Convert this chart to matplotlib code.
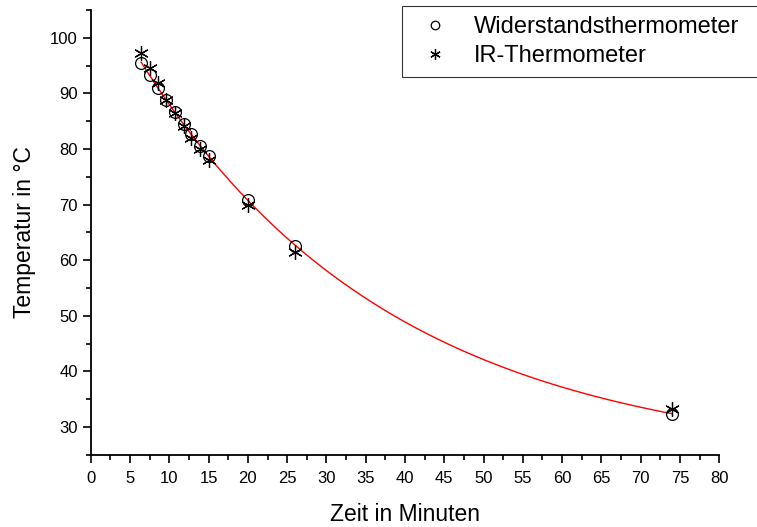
import numpy as np
import matplotlib
matplotlib.use("Agg")
import matplotlib.pyplot as plt
from matplotlib.ticker import MultipleLocator

plt.rcParams['font.family'] = ['Liberation Sans', 'DejaVu Sans']

# Messwerte
zeit = [6.4, 7.5, 8.5, 9.6, 10.7, 11.8, 12.8, 13.9, 15.0, 20.0, 26.0, 74.0]
temp_widerstand = [95.5, 93.3, 91.0, 88.8, 86.6, 84.5, 82.7, 80.6, 78.7, 70.8, 62.6, 32.4]
temp_ir = [97.3, 94.6, 91.8, 88.8, 86.5, 84.2, 81.9, 80.0, 78.1, 69.9, 61.4, 33.2]

# exponentieller Fit y = y0 + A*exp(-t/tau) auf Widerstandsthermometer
t = np.array(zeit)
y = np.array(temp_widerstand)
best = None
for tau in np.linspace(5, 200, 4000):
    M = np.column_stack([np.ones_like(t), np.exp(-t / tau)])
    coef, res, _, _ = np.linalg.lstsq(M, y, rcond=None)
    err = np.sum((M @ coef - y) ** 2)
    if best is None or err < best[0]:
        best = (err, tau, coef)
_, tau, coef = best
t_fit = np.linspace(t.min(), t.max(), 400)
y_fit = coef[0] + coef[1] * np.exp(-t_fit / tau)

fig = plt.figure(figsize=(7.57, 5.27), dpi=100)
ax = fig.add_axes([0.120, 0.137, 0.830, 0.844])

ax.plot(t_fit, y_fit, color='red', lw=1.0)
ax.plot(zeit, temp_widerstand, 'o', mfc='none', mec='black', ms=8.5, mew=0.9,
        label='Widerstandsthermometer', linestyle='none')
ax.plot(zeit, temp_ir, marker=(6, 2, 0), color='black', ms=10.5, mew=0.9,
        label='IR-Thermometer', linestyle='none')

ax.set_xlim(0, 80)
ax.set_ylim(25, 105)
ax.xaxis.set_major_locator(MultipleLocator(5))
ax.xaxis.set_minor_locator(MultipleLocator(2.5))
ax.yaxis.set_major_locator(MultipleLocator(10))
ax.yaxis.set_minor_locator(MultipleLocator(5))
ax.set_yticks(np.arange(30, 101, 10))

for s in ['top', 'right']:
    ax.spines[s].set_visible(False)
for s in ['left', 'bottom']:
    ax.spines[s].set_linewidth(1.3)
ax.tick_params(which='major', length=6, width=1.2, labelsize=12, direction='out')
ax.tick_params(axis='x', which='major', pad=6)
ax.tick_params(which='minor', length=3.5, width=1.2, direction='out')

ax.set_xlabel('Zeit in Minuten', fontsize=16.5, labelpad=12)
ax.set_ylabel('Temperatur in °C', fontsize=16.5, labelpad=10)

# Legende reicht rechts bis ueber den Bildrand
leg = fig.legend(loc='upper left', bbox_to_anchor=(0.531, 0.9886, 0.49, 0), mode='expand',
                 fontsize=17, frameon=True, fancybox=False, edgecolor='black',
                 markerscale=0.72, handlelength=2.0, handletextpad=0.61,
                 borderpad=0.42, labelspacing=0.3, borderaxespad=0.0)
leg.get_frame().set_linewidth(0.8)

fig.savefig('out.png', dpi=100)
